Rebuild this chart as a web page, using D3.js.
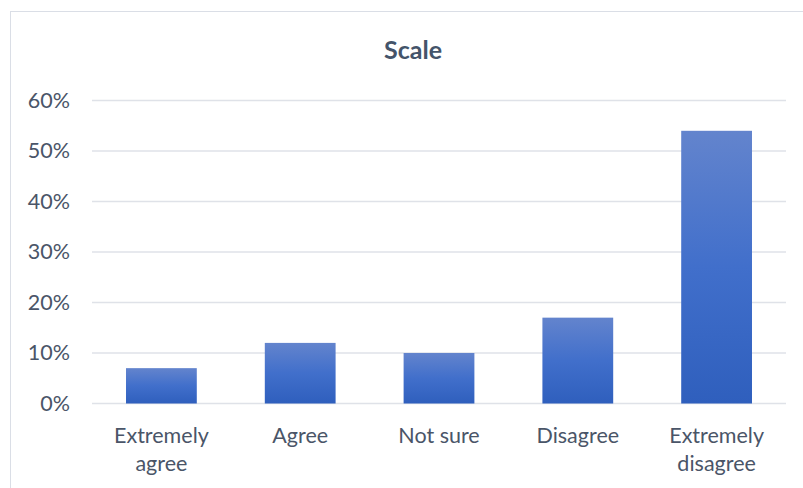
<!DOCTYPE html>
<html>
<head>
<meta charset="utf-8">
<script src="https://cdn.jsdelivr.net/npm/d3@7"></script>
<style>
  html, body { margin: 0; padding: 0; background: #fff; }
  svg { display: block; }
  text { font-family: Lato, "Open Sans", sans-serif; }
</style>
</head>
<body>
<svg id="chart" width="803" height="488"></svg>
<script>
// Survey responses on the agreement scale (share of respondents)
const categories = ["Extremely agree", "Agree", "Not sure", "Disagree", "Extremely disagree"];
const shares = [0.07, 0.12, 0.10, 0.17, 0.54];
const yTicks = [0, 0.1, 0.2, 0.3, 0.4, 0.5, 0.6];
const title = "Scale";

// Split each category label over two lines where the axis wraps it
const labelLines = {
  "Extremely agree": ["Extremely", "agree"],
  "Agree": ["Agree"],
  "Not sure": ["Not sure"],
  "Disagree": ["Disagree"],
  "Extremely disagree": ["Extremely", "disagree"]
};

const svg = d3.select("#chart");
const textColor = "#4a5568";
const plot = { left: 92, right: 786, top: 100.5, bottom: 403.5 };

// Chart frame (runs past the right and bottom edges)
svg.append("rect")
  .attr("x", 10.5).attr("y", 11.5)
  .attr("width", 820).attr("height", 500)
  .attr("fill", "#fff")
  .attr("stroke", "#dadee6").attr("stroke-width", 1);

const defs = svg.append("defs");
const grad = defs.append("linearGradient")
  .attr("id", "barFill").attr("x1", 0).attr("y1", 0).attr("x2", 0).attr("y2", 1);
grad.append("stop").attr("offset", "0%").attr("stop-color", "#6384cd");
grad.append("stop").attr("offset", "50%").attr("stop-color", "#416fcb");
grad.append("stop").attr("offset", "100%").attr("stop-color", "#2f5fbd");

const x = d3.scaleBand()
  .domain(categories)
  .range([plot.left, plot.right])
  .paddingInner(0.49)
  .paddingOuter(0.245);

const y = d3.scaleLinear()
  .domain([0, 0.6])
  .range([plot.bottom, plot.top]);

// Horizontal gridlines
svg.append("g")
  .selectAll("line")
  .data(yTicks)
  .join("line")
  .attr("x1", plot.left).attr("x2", plot.right)
  .attr("y1", d => y(d)).attr("y2", d => y(d))
  .attr("stroke", "#dfe2e8").attr("stroke-width", 1.3);

// Y axis labels
const yAxis = d3.axisLeft(y)
  .tickValues(yTicks)
  .tickFormat(d3.format(".0%"))
  .tickSize(0)
  .tickPadding(22);
const yg = svg.append("g")
  .attr("transform", `translate(${plot.left},0)`)
  .call(yAxis);
yg.select(".domain").remove();
yg.selectAll("text")
  .attr("fill", textColor)
  .style("font-size", "21.5px");

// Bars
svg.append("g")
  .selectAll("rect")
  .data(categories.map((c, i) => ({ c, v: shares[i] })))
  .join("rect")
  .attr("x", d => x(d.c))
  .attr("width", x.bandwidth())
  .attr("y", d => y(d.v))
  .attr("height", d => y(0) - y(d.v))
  .attr("fill", "url(#barFill)");

// Category labels
const xg = svg.append("g")
  .attr("transform", `translate(0,${plot.bottom})`)
  .call(d3.axisBottom(x).tickSize(0).tickFormat(""));
xg.select(".domain").remove();
xg.selectAll(".tick").each(function(d) {
  const t = d3.select(this).append("text")
    .attr("text-anchor", "middle")
    .attr("fill", textColor)
    .style("font-size", "21.5px");
  labelLines[d].forEach((line, i) => {
    t.append("tspan").attr("x", 0).attr("y", 39 + i * 28).text(line);
  });
});

// Title
svg.append("text")
  .attr("x", 413).attr("y", 59)
  .attr("text-anchor", "middle")
  .attr("fill", "#44546a")
  .style("font-size", "25px")
  .style("font-weight", "bold")
  .text(title);
</script>
</body>
</html>
